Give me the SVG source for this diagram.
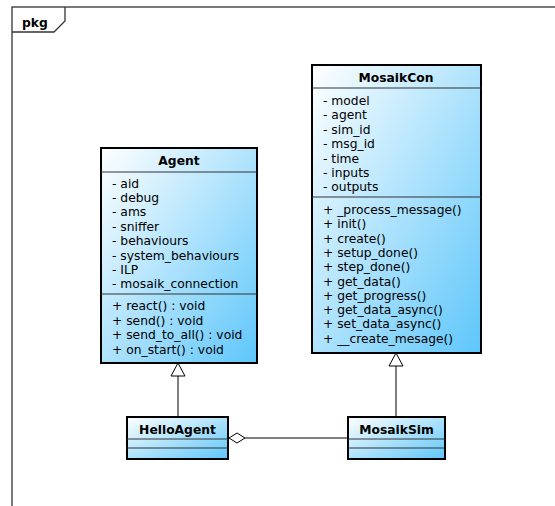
<svg xmlns="http://www.w3.org/2000/svg" width="555" height="506" viewBox="0 0 555 506">
<defs>
<linearGradient id="g" x1="0" y1="0" x2="1" y2="1">
<stop offset="0" stop-color="#ffffff"/>
<stop offset="1" stop-color="#5ec6fa"/>
</linearGradient>
</defs>
<style>
.box{fill:url(#g);stroke:#000;stroke-width:2}
.sep{stroke:#333;stroke-width:1.2}
.t{font-family:"DejaVu Sans",Verdana,sans-serif;font-size:12.3px;fill:#000}
.b{font-family:"DejaVu Sans",Verdana,sans-serif;font-size:12.3px;font-weight:bold;fill:#000;text-anchor:middle}
.ln{stroke:#000;stroke-width:1;fill:none}
.hd{stroke:#000;stroke-width:1;fill:#fff}
</style>
<rect width="555" height="506" fill="#fff"/>
<g id="frame">
<rect x="12" y="7" width="600" height="600" fill="none" stroke="#333" stroke-width="1.3"/>
<path d="M12,32 H54 L65,21 V7" fill="none" stroke="#333" stroke-width="1.3"/>
<text x="22" y="26.5" class="t" font-weight="bold">pkg</text>
</g>
<g id="connectors">
<line class="ln" x1="178" y1="417" x2="178" y2="376"/>
<polygon class="hd" points="178,363 171,376 185,376"/>
<line class="ln" x1="396" y1="417" x2="396" y2="366"/>
<polygon class="hd" points="396,353 389,366 403,366"/>
<line class="ln" x1="245" y1="438" x2="348" y2="438"/>
<polygon class="hd" points="229,438 237,433 245,438 237,443"/>
</g>
<g id="Agent">
<rect class="box" x="101" y="148" width="156" height="215"/>
<line class="sep" x1="101" y1="172" x2="257" y2="172"/>
<line class="sep" x1="101" y1="294" x2="257" y2="294"/>
<text class="b" x="179" y="165">Agent</text>
<text class="t" x="112" y="187.5">- aid</text>
<text class="t" x="112" y="201.9">- debug</text>
<text class="t" x="112" y="216.3">- ams</text>
<text class="t" x="112" y="230.7">- sniffer</text>
<text class="t" x="112" y="245.1">- behaviours</text>
<text class="t" x="112" y="259.5">- system_behaviours</text>
<text class="t" x="112" y="273.9">- ILP</text>
<text class="t" x="112" y="288.3">- mosaik_connection</text>
<text class="t" x="112" y="310">+ react() : void</text>
<text class="t" x="112" y="324.5">+ send() : void</text>
<text class="t" x="112" y="339">+ send_to_all() : void</text>
<text class="t" x="112" y="353.5">+ on_start() : void</text>
</g>
<g id="MosaikCon">
<rect class="box" x="312" y="65" width="169" height="288"/>
<line class="sep" x1="312" y1="88" x2="481" y2="88"/>
<line class="sep" x1="312" y1="197" x2="481" y2="197"/>
<text class="b" x="396" y="82">MosaikCon</text>
<text class="t" x="323" y="105">- model</text>
<text class="t" x="323" y="119.4">- agent</text>
<text class="t" x="323" y="133.8">- sim_id</text>
<text class="t" x="323" y="148.2">- msg_id</text>
<text class="t" x="323" y="162.6">- time</text>
<text class="t" x="323" y="177">- inputs</text>
<text class="t" x="323" y="191.4">- outputs</text>
<text class="t" x="323" y="214">+ _process_message()</text>
<text class="t" x="323" y="228.3">+ init()</text>
<text class="t" x="323" y="242.6">+ create()</text>
<text class="t" x="323" y="256.9">+ setup_done()</text>
<text class="t" x="323" y="271.2">+ step_done()</text>
<text class="t" x="323" y="285.5">+ get_data()</text>
<text class="t" x="323" y="299.8">+ get_progress()</text>
<text class="t" x="323" y="314.1">+ get_data_async()</text>
<text class="t" x="323" y="328.4">+ set_data_async()</text>
<text class="t" x="323" y="342.7">+ __create_mesage()</text>
</g>
<g id="HelloAgent">
<rect class="box" x="127" y="417" width="101" height="42"/>
<line class="sep" x1="127" y1="439" x2="228" y2="439"/>
<line class="sep" x1="127" y1="448" x2="228" y2="448"/>
<text class="b" x="177.5" y="434">HelloAgent</text>
</g>
<g id="MosaikSim">
<rect class="box" x="348" y="417" width="97" height="42"/>
<line class="sep" x1="348" y1="439" x2="445" y2="439"/>
<line class="sep" x1="348" y1="448" x2="445" y2="448"/>
<text class="b" x="396.5" y="434">MosaikSim</text>
</g>
</svg>
